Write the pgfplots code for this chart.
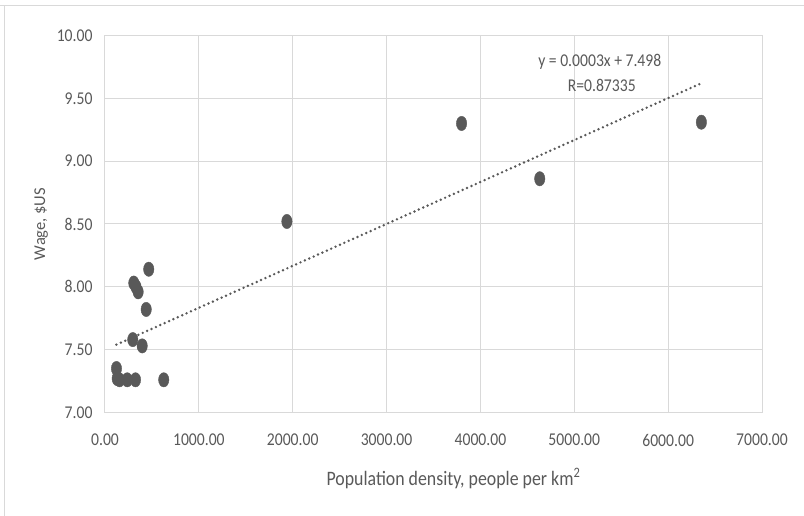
\documentclass[border=0pt]{standalone}
\usepackage{pgfplots}
\pgfplotsset{compat=1.18}
\usepackage{fontspec}
\setmainfont{Carlito}
\newfontfamily\tickfont[FakeStretch=0.87]{Carlito}
\definecolor{txt}{HTML}{595959}
\definecolor{grd}{HTML}{D9D9D9}
\definecolor{pt}{HTML}{595959}
\begin{document}
\begin{tikzpicture}[x=1pt,y=1pt]
\useasboundingbox (0,0) rectangle (804,516);
\draw[grd, line width=1pt] (0,510) -- (804,510);
\draw[grd, line width=1pt] (4,0) -- (4,510);
\begin{axis}[
  at={(105pt,103.5pt)}, anchor=south west,
  scale only axis, width=657pt, height=377pt,
  xmin=0, xmax=7000, ymin=7, ymax=10,
  xtick={0,1000,...,7000}, ytick={7,7.5,...,10},
  grid=major, major grid style={grd, line width=1pt},
  axis line style={grd, line width=1pt},
  tick style={draw=none},
  ticklabel style={font=\tickfont\fontsize{18}{20}\selectfont, text=txt},
  /pgf/number format/assume math mode=true,
  /pgf/number format/.cd, fixed, fixed zerofill, precision=2, 1000 sep={},
  /pgfplots/.cd,
  xticklabel style={yshift=-18pt},
  yticklabel style={xshift=-9pt},
  xlabel={Population density, people per km\textsuperscript{2}},
  ylabel={Wage, \$US},
  xlabel style={font=\tickfont\fontsize{20.5}{22}\selectfont, text=txt, yshift=-15pt, xshift=20pt},
  ylabel style={font=\fontsize{16.5}{20}\selectfont, text=txt, yshift=2pt},
  clip=false,
]
\addplot[no marks, pt, line width=2.7pt, line cap=round, dash pattern=on 0pt off 4.8pt]
  coordinates {(122,7.54) (6354,9.62)};
\addplot[only marks, color=pt, mark=*, mark size=5.2pt, mark options={fill=pt, draw=none, yscale=1.38}]
  coordinates {
  (122,7.35) (130,7.27) (155,7.26) (237,7.26) (325,7.26) (626,7.26)
  (296,7.58) (396,7.53)
  (466,8.14) (307,8.03) (330,8.00) (353,7.96) (439,7.82)
  (1938,8.52) (3799,9.30) (4632,8.86) (6354,9.31)
  };
\node[font=\tickfont\fontsize{18}{20}\selectfont, text=txt] at (axis cs:5272,9.79) {y = 0.0003x + 7.498};
\node[font=\tickfont\fontsize{18}{20}\selectfont, text=txt] at (axis cs:5293,9.60) {R=0.87335};
\end{axis}
\end{tikzpicture}
\end{document}
